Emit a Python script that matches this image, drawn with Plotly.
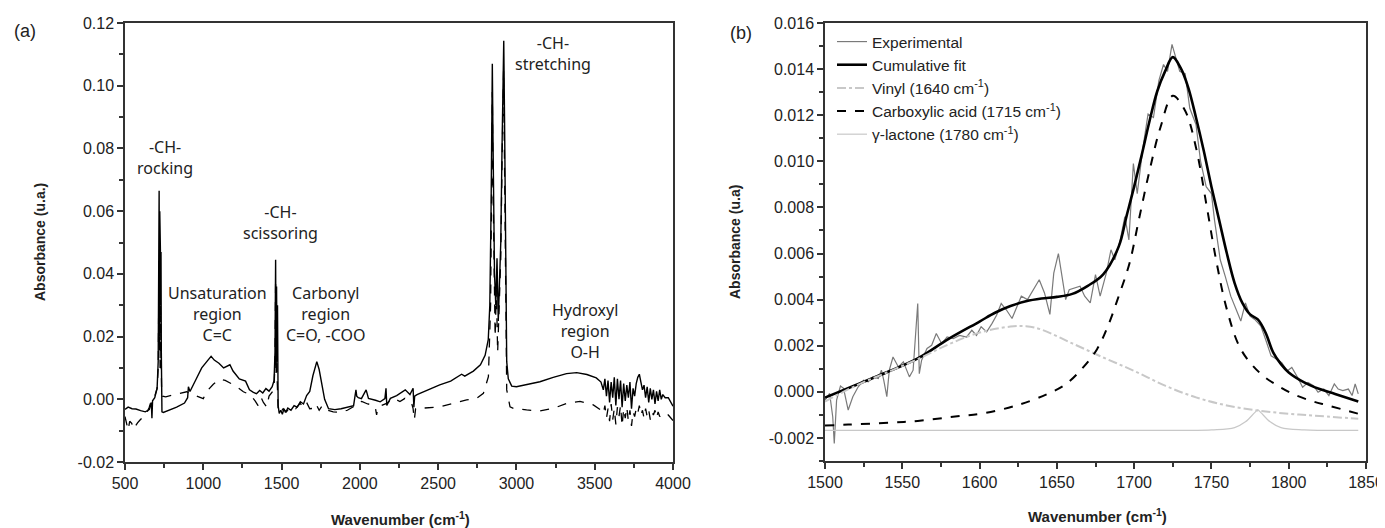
import plotly.graph_objects as go

# ---- panel (a): full FTIR spectra ----
wn_solid = [500, 520, 545, 570, 600, 630, 655, 668, 672, 676, 690, 705, 712, 716, 718, 720, 722, 724, 726, 728,
            730, 732, 734, 736, 745, 780, 830, 880, 900, 905, 915, 950, 990, 1030, 1050, 1070, 1100, 1130, 1160,
            1170, 1190, 1230, 1270, 1295, 1320, 1340, 1360, 1380, 1400, 1420, 1440, 1452, 1458, 1462, 1465, 1468,
            1471, 1474, 1478, 1485, 1495, 1505, 1515, 1525, 1540, 1560, 1580, 1600, 1620, 1640, 1660, 1680, 1700,
            1715, 1725, 1740, 1755, 1775, 1800, 1840, 1880, 1920, 1960, 1975, 1980, 1990, 2010, 2040, 2055, 2100,
            2130, 2160, 2167, 2172, 2195, 2235, 2290, 2320, 2340, 2345, 2350, 2365, 2430, 2510, 2580, 2650, 2670,
            2725, 2770, 2800, 2820, 2830, 2838, 2842, 2846, 2850, 2855, 2860, 2868, 2876, 2884, 2892, 2900, 2908,
            2914, 2919, 2924, 2930, 2938, 2948, 2970, 3000, 3065, 3150, 3235, 3320, 3385, 3450, 3510, 3540,
            3555, 3565, 3575, 3585, 3595, 3605, 3615, 3625, 3635, 3645, 3655, 3665, 3675, 3685, 3695, 3705, 3715,
            3725, 3735, 3745, 3755, 3765, 3775, 3785, 3795, 3805, 3815, 3825, 3835, 3845, 3855, 3865, 3875, 3885,
            3895, 3905, 3915, 3925, 3935, 3950, 3970, 3990, 4000]
abs_solid = [-0.0032, -0.0025, -0.0030, -0.0031, -0.0036, -0.0040, -0.0033, -0.0010, -0.0060, -0.0005, 0.0005,
             0.0035, 0.012, 0.040, 0.0665, 0.020, 0.060, 0.025, 0.048, 0.030, 0.047, 0.015, -0.002, -0.0040,
             -0.0042, -0.0035, -0.0025, -0.0012, 0.0005, 0.0040, 0.0025, 0.0060, 0.0100, 0.0125, 0.0137, 0.0125,
             0.0115, 0.0100, 0.0108, 0.0110, 0.0090, 0.0065, 0.0058, 0.0030, 0.0022, 0.0018, 0.0028, 0.0020,
             0.0034, 0.0026, 0.0040, 0.0060, 0.015, 0.0445, 0.010, 0.036, 0.012, 0.030, -0.002, -0.0045, -0.0035,
             -0.0048, -0.0030, -0.0042, -0.0028, -0.0035, -0.0020, -0.0025, -0.0008, -0.0015, 0.0012, 0.0025,
             0.0075, 0.0105, 0.0120, 0.0095, 0.0050, 0.0000, -0.0030, -0.0033, -0.0030, -0.0026, -0.0020, 0.0030,
             0.0010, 0.0005, 0.0002, 0.0030, 0.0003, -0.0003, -0.0008, 0.0002, 0.0035, -0.0020, 0.0003, 0.0012,
             0.0030, 0.0015, 0.0035, -0.0025, 0.0010, 0.0015, 0.0030, 0.0046, 0.0058, 0.0080, 0.0074, 0.0090,
             0.011, 0.014, 0.019, 0.030, 0.060, 0.080, 0.107, 0.085, 0.060, 0.040, 0.030, 0.045, 0.025, 0.035,
             0.050, 0.080, 0.105, 0.1143, 0.090, 0.040, 0.012, 0.0065, 0.0042, 0.0040, 0.0046, 0.0056, 0.0070,
             0.0082, 0.0085, 0.0079, 0.0068, 0.0055,
             0.0030, 0.0065, 0.0010, 0.0060, -0.0010, 0.0055, 0.0005, 0.0070, -0.0020, 0.0065, 0.0000, 0.0060,
             -0.0025, 0.0050, -0.0005, 0.0045, 0.0005, 0.0055, -0.0030, 0.0035, 0.0010, 0.0050, 0.0070, 0.0080,
             0.0055, 0.0030, 0.0045, 0.0005, 0.0040, -0.0010, 0.0035, 0.0000, 0.0030, -0.0015, 0.0025, -0.0005,
             0.0030, 0.0000, 0.0015, 0.0005, 0.0005, -0.0015, -0.0022]

wn_dash = [500, 510, 520, 530, 543, 555, 564, 580, 596, 620, 638, 655, 670, 690, 705, 712, 716, 718, 720, 722,
           724, 726, 730, 734, 740, 760, 809, 862, 894, 937, 979, 1000, 1022, 1064, 1107, 1140, 1171, 1214, 1256,
           1299, 1331, 1350, 1370, 1384, 1405, 1420, 1443, 1452, 1458, 1462, 1465, 1468, 1472, 1478, 1490, 1510,
           1530, 1560, 1590, 1618, 1640, 1660, 1680, 1703, 1720, 1740, 1760, 1788, 1830, 1873, 1920, 1958, 1985,
           2012, 2050, 2086, 2100, 2107, 2115, 2129, 2171, 2214, 2256, 2288, 2331, 2340, 2348, 2356, 2384, 2437,
           2512, 2597, 2682, 2746, 2789, 2821, 2835, 2842, 2846, 2850, 2856, 2864, 2872, 2880, 2890, 2900, 2908,
           2914, 2918, 2923, 2930, 2938, 2959, 2980, 3065, 3150, 3236, 3321, 3406, 3491, 3540,
           3555, 3565, 3575, 3585, 3595, 3605, 3615, 3625, 3635, 3645, 3655, 3665, 3675, 3685, 3695, 3705, 3715,
           3725, 3735, 3745, 3755, 3765, 3775, 3785, 3795, 3805, 3815, 3825, 3835, 3845, 3855, 3865, 3875, 3885,
           3895, 3905, 3915, 3930, 3950, 3970, 3990, 4000]
abs_dash = [-0.0055, -0.0080, -0.0098, -0.0070, -0.0077, -0.0095, -0.0087, -0.0075, -0.0066, -0.0055, -0.0045,
            -0.0025, -0.0002, 0.0010, 0.0035, 0.010, 0.030, 0.045, 0.015, 0.040, 0.010, 0.030, 0.020, 0.002,
            0.0010, 0.0008, 0.0014, 0.0019, 0.0024, 0.0014, 0.0005, 0.0002, 0.0025, 0.0048, 0.0064, 0.0060,
            0.0052, 0.0040, 0.0024, 0.0015, -0.0005, -0.0020, 0.0005, -0.0010, -0.0025, 0.0010, 0.0025, 0.0040,
            0.012, 0.038, 0.008, 0.030, 0.006, -0.003, -0.0045, -0.0030, -0.0040, -0.0025, -0.0030, -0.0013,
            -0.0025, -0.0010, -0.0030, -0.0029, -0.0015, -0.0035, -0.0020, -0.0034, -0.0040, -0.0042, -0.0035,
            -0.0024, -0.0010, -0.0007, -0.0015, -0.0018, -0.0030, -0.0050, -0.0025, -0.0022, -0.0013, 0.0003,
            -0.0007, 0.0003, -0.0013, -0.0030, -0.0065, -0.0030, -0.0029, -0.0029, -0.0024, -0.0013, -0.0002,
            0.0003, 0.0019, 0.0072, 0.030, 0.070, 0.098, 0.070, 0.040, 0.020, 0.035, 0.015, 0.030, 0.045, 0.075,
            0.098, 0.105, 0.080, 0.030, 0.003, -0.0024, -0.0029, -0.0034, -0.0037, -0.0029, -0.0013, -0.0007,
            -0.0018, -0.0035,
            -0.0045, -0.0020, -0.0060, -0.0030, -0.0070, -0.0015, -0.0065, -0.0030, -0.0080, -0.0025, -0.0055,
            -0.0020, -0.0085, -0.0030, -0.0060, -0.0025, -0.0070, -0.0035, -0.0085, -0.0040, -0.0055, -0.0030,
            -0.0045, -0.0020, -0.0050, -0.0035, -0.0060, -0.0030, -0.0055, -0.0035, -0.0065, -0.0040, -0.0050,
            -0.0035, -0.0060, -0.0040, -0.0055, -0.0045, -0.0050, -0.0050, -0.0060, -0.0068]

# ---- panel (b): deconvolution of the carbonyl band ----
wn_exp = [1500, 1503, 1505, 1506, 1507.5, 1510, 1512, 1515, 1518, 1521.5, 1525, 1528, 1531, 1534.5, 1536.5, 1538,
          1540, 1541.6, 1544, 1547.5, 1550.7, 1554.6, 1557, 1560, 1561, 1562.5, 1566, 1569, 1572, 1575.5, 1579,
          1583, 1587, 1591.6, 1595, 1598, 1601, 1604.6, 1608, 1611, 1614, 1617.5, 1621, 1624, 1627, 1631, 1635,
          1638.6, 1642, 1645.5, 1648, 1651, 1653, 1655.7, 1658, 1661, 1665, 1668, 1671.6, 1675, 1678, 1682, 1685,
          1687.5, 1691, 1694, 1696.6, 1699.5, 1702, 1705.7, 1709, 1712.5, 1716, 1719, 1721.6, 1724.5, 1727,
          1729.5, 1733, 1736, 1740, 1743, 1746.6, 1750, 1752, 1755.7, 1759, 1762.5, 1766, 1769, 1772, 1775, 1778,
          1782, 1785, 1788.6, 1792, 1795.5, 1799, 1802, 1805.7, 1809, 1812.5, 1816, 1819, 1822.7, 1826, 1829.5,
          1832, 1835, 1838.6, 1841, 1843, 1845]
abs_exp = [-0.36, -0.07, -1.08, -2.24, -0.36, 0.25, 0.15, -0.79, -0.21, 0.22, 0.51, 0.44, 0.65, 0.58, 0.94, 0.51,
           -0.21, 0.94, 1.51, 1.08, 1.30, 0.65, 0.94, 3.83, 0.79, 1.37, 1.88, 2.02, 2.53, 2.09, 2.38, 2.31, 2.45,
           2.38, 2.67, 2.45, 2.82, 2.60, 2.96, 3.32, 3.83, 3.54, 3.18, 3.68, 4.15, 4.00, 4.43, 4.86, 4.29, 3.36,
           5.15, 6.00, 5.15, 4.00, 4.43, 4.50, 4.58, 4.15, 3.86, 5.08, 4.15, 5.15, 6.16, 5.73, 6.59, 7.60, 6.59,
           9.90, 8.60, 10.6, 12.05, 11.9, 13.5, 14.2, 13.9, 15.07, 14.5, 13.9, 13.8, 12.3, 11.6, 10.0, 8.9, 8.6,
           7.45, 5.73, 5.0, 4.15, 3.57, 3.07, 3.86, 3.28, 3.14, 2.85, 2.28, 1.56, 1.42, 1.27, 0.91, 1.06, 0.63,
           0.20, 0.41, 0.27, -0.02, 0.12, -0.16, 0.34, 0.12, 0.05, 0.12, -0.16, 0.34, -0.09]

wn_fit = [1500, 1520, 1540, 1560, 1580, 1600, 1610, 1620, 1630, 1640, 1650, 1660, 1670, 1680, 1690, 1695, 1700,
          1705, 1710, 1715, 1720, 1725, 1730, 1735, 1740, 1745, 1750, 1755, 1760, 1765, 1770, 1775, 1780, 1785,
          1790, 1795, 1800, 1810, 1820, 1830, 1845]
abs_fit = [-0.25, 0.30, 0.85, 1.45, 2.30, 3.05, 3.43, 3.72, 3.93, 4.05, 4.12, 4.25, 4.60, 5.10, 6.30, 7.60, 8.90,
           10.3, 11.76, 13.05, 13.9, 14.52, 14.06, 13.2, 11.9, 10.47, 8.9, 7.45, 6.0, 4.72, 3.86, 3.36, 3.14, 2.57,
           1.70, 1.20, 0.84, 0.41, 0.12, -0.09, -0.42]

wn_vinyl = [1500, 1520, 1540, 1560, 1580, 1600, 1620, 1630, 1640, 1660, 1680, 1700, 1720, 1740, 1760, 1780, 1800,
            1820, 1845]
abs_vinyl = [-0.42, 0.27, 0.84, 1.42, 2.06, 2.57, 2.83, 2.85, 2.70, 2.10, 1.49, 0.91, 0.27, -0.24, -0.59, -0.81,
             -0.95, -1.05, -1.17]

wn_acid = [1500, 1515, 1542, 1560, 1587, 1601, 1624, 1644, 1656, 1667, 1676, 1683, 1690, 1697, 1703, 1710, 1717,
           1725, 1733, 1740, 1747, 1753, 1760, 1769, 1781, 1792, 1803, 1815, 1826, 1845]
abs_acid = [-1.46, -1.42, -1.34, -1.26, -1.05, -0.95, -0.59, -0.09, 0.34, 1.06, 1.85, 2.85, 4.15, 5.58, 7.45, 9.61,
            11.47, 12.84, 12.19, 10.6, 8.03, 5.73, 3.57, 1.85, 0.84, 0.30, -0.10, -0.40, -0.60, -0.95]

wn_lact = [1500, 1600, 1700, 1750, 1765, 1772, 1778, 1780, 1782, 1788, 1795, 1810, 1845]
abs_lact = [-1.67, -1.67, -1.67, -1.65, -1.55, -1.30, -0.90, -0.78, -0.90, -1.30, -1.55, -1.65, -1.67]

# y tick labels (plain hyphen minus, as in the original)
ya_vals = [-0.02, 0.00, 0.02, 0.04, 0.06, 0.08, 0.10, 0.12]
ya_text = ["-0.02", "0.00", "0.02", "0.04", "0.06", "0.08", "0.10", "0.12"]
yb_vals = [-0.002, 0.000, 0.002, 0.004, 0.006, 0.008, 0.010, 0.012, 0.014, 0.016]
yb_text = ["-0.002", "0.000", "0.002", "0.004", "0.006", "0.008", "0.010", "0.012", "0.014", "0.016"]

TICKFONT = dict(family="Liberation Sans, Arial", size=16, color="#222")
TXTFONT = dict(family="Noto Sans", size=16, color="#222")

fig = go.Figure()

fig.add_trace(go.Scatter(x=wn_dash, y=abs_dash, mode="lines", line=dict(color="black", width=1.3, dash="dash"),
                         showlegend=False, xaxis="x", yaxis="y"))
fig.add_trace(go.Scatter(x=wn_solid, y=abs_solid, mode="lines", line=dict(color="black", width=1.4),
                         showlegend=False, xaxis="x", yaxis="y"))

scale = 1e-3
fig.add_trace(go.Scatter(x=wn_exp, y=[v * scale for v in abs_exp], mode="lines", name="Experimental",
                         line=dict(color="#7a7a7a", width=1.2), xaxis="x2", yaxis="y2"))
fig.add_trace(go.Scatter(x=wn_fit, y=[v * scale for v in abs_fit], mode="lines", name="Cumulative fit",
                         line=dict(color="black", width=2.6, shape="spline"), xaxis="x2", yaxis="y2"))
fig.add_trace(go.Scatter(x=wn_vinyl, y=[v * scale for v in abs_vinyl], mode="lines",
                         name="Vinyl (1640 cm<sup>-1</sup>)",
                         line=dict(color="#c8c8c8", width=2, dash="dashdot", shape="spline"), xaxis="x2", yaxis="y2"))
fig.add_trace(go.Scatter(x=wn_acid, y=[v * scale for v in abs_acid], mode="lines",
                         name="Carboxylic acid (1715 cm<sup>-1</sup>)",
                         line=dict(color="black", width=2, dash="dash", shape="spline"), xaxis="x2", yaxis="y2"))
fig.add_trace(go.Scatter(x=wn_lact, y=[v * scale for v in abs_lact], mode="lines",
                         name="γ-lactone (1780 cm<sup>-1</sup>)",
                         line=dict(color="#c8c8c8", width=1.2, shape="spline"), xaxis="x2", yaxis="y2"))

# the page body adds an 8px offset, so work in window pixels and convert
OFF = 8
W, H = 1385 - OFF, 528 - OFF


def px_x(p):
    return (p - OFF) / W


def px_y(p):
    return 1 - (p - OFF) / H


axis_common = dict(showline=True, linecolor="#333", linewidth=1.5, mirror=True, ticks="outside", ticklen=6,
                   tickcolor="#333", tickwidth=1.5, showgrid=False, zeroline=False, tickfont=TICKFONT,
                   automargin=False)

fig.update_layout(
    width=W, height=H, margin=dict(l=0, r=0, t=0, b=0),
    plot_bgcolor="white", paper_bgcolor="white",
    xaxis=dict(domain=[px_x(125), px_x(673)], range=[500, 4000], dtick=500, tick0=500,
               minor=dict(dtick=250, ticklen=4, tickcolor="#333", ticks="outside"), anchor="y", **axis_common),
    yaxis=dict(domain=[px_y(462), px_y(23)], range=[-0.02, 0.12], tickvals=ya_vals, ticktext=ya_text,
               minor=dict(dtick=0.01, ticklen=4, tickcolor="#333", ticks="outside"), anchor="x", **axis_common),
    xaxis2=dict(domain=[px_x(825), px_x(1366)], range=[1500, 1850], dtick=50, tick0=1500,
                minor=dict(dtick=25, ticklen=4, tickcolor="#333", ticks="outside"), anchor="y2", **axis_common),
    yaxis2=dict(domain=[px_y(461), px_y(23)], range=[-0.003, 0.016], tickvals=yb_vals, ticktext=yb_text,
                minor=dict(dtick=0.001, ticklen=4, tickcolor="#333", ticks="outside"), anchor="x2", **axis_common),
    legend=dict(x=px_x(832), y=px_y(25), xanchor="left", yanchor="top", bgcolor="rgba(0,0,0,0)",
                font=dict(family="Liberation Sans, Arial", size=15.5, color="#222"), itemwidth=30,
                tracegroupgap=0),
    showlegend=True,
)

ann = [
    ("-CH-<br>rocking", 165, 157),
    ("-CH-<br>scissoring", 280, 222),
    ("Unsaturation<br>region<br>C=C", 217, 314),
    ("Carbonyl<br>region<br>C=O, -COO", 326, 314),
    ("-CH-<br>stretching", 553, 53),
    ("Hydroxyl<br>region<br>O-H", 585, 331),
]
for text, px, py in ann:
    fig.add_annotation(text=text, x=px_x(px), y=px_y(py), xref="paper", yref="paper", showarrow=False,
                       font=TXTFONT, align="center", xanchor="center", yanchor="middle")

LABELFONT = dict(family="Liberation Sans, Arial", size=18, color="#222")
fig.add_annotation(text="(a)", x=px_x(25), y=px_y(31), xref="paper", yref="paper", showarrow=False,
                   xanchor="center", yanchor="middle", font=LABELFONT)
fig.add_annotation(text="(b)", x=px_x(741), y=px_y(33), xref="paper", yref="paper", showarrow=False,
                   xanchor="center", yanchor="middle", font=LABELFONT)

TITLEFONT = dict(family="Liberation Sans, Arial", size=15, color="#222")
fig.add_annotation(text="<b>Wavenumber (cm<sup>-1</sup>)</b>", x=px_x(400), y=px_y(518), xref="paper",
                   yref="paper", showarrow=False, xanchor="center", yanchor="middle", font=TITLEFONT)
fig.add_annotation(text="<b>Wavenumber (cm<sup>-1</sup>)</b>", x=px_x(1097), y=px_y(515), xref="paper",
                   yref="paper", showarrow=False, xanchor="center", yanchor="middle", font=TITLEFONT)
fig.add_annotation(text="<b>Absorbance (u.a.)</b>", x=px_x(40), y=px_y(242), xref="paper", yref="paper",
                   showarrow=False, textangle=-90, xanchor="center", yanchor="middle",
                   font=dict(family="Liberation Sans, Arial", size=14, color="#222"))
fig.add_annotation(text="<b>Absorbance (u.a)</b>", x=px_x(735), y=px_y(242), xref="paper", yref="paper",
                   showarrow=False, textangle=-90, xanchor="center", yanchor="middle",
                   font=dict(family="Liberation Sans, Arial", size=14, color="#222"))

fig.write_html("out.html")
